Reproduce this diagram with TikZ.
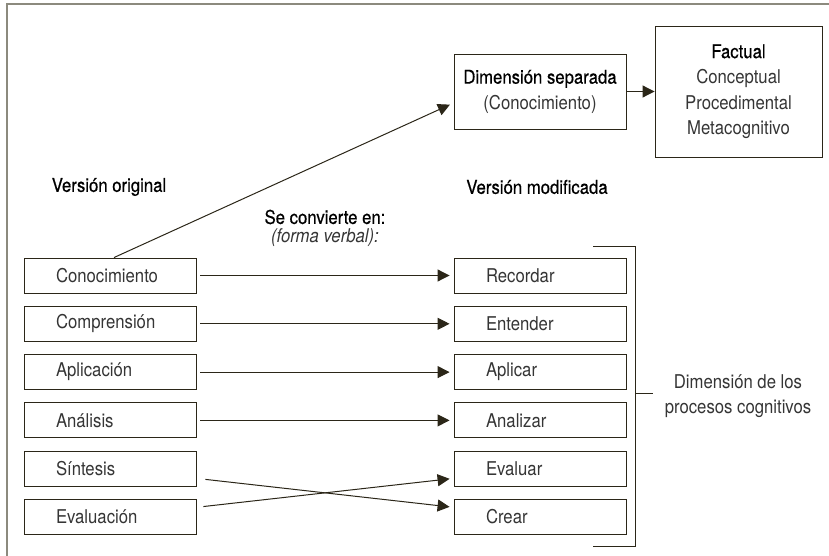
\documentclass[tikz,border=0pt]{standalone}
\usepackage{fontspec}
\setmainfont{TeX Gyre Heros}[FakeStretch=0.88]
\newfontfamily\medfont{TeX Gyre Heros}[FakeStretch=0.88,FakeBold=0.5]
\usepackage{tikz}
\usetikzlibrary{arrows.meta, positioning}
\definecolor{lineC}{HTML}{2B2618}
\definecolor{frameC}{HTML}{8C8A7E}
\definecolor{textC}{HTML}{353535}

\tikzset{
  box/.style={draw=lineC, line width=0.9pt, minimum height=35pt, inner ysep=0pt, text=textC},
  rowbox/.style={box, text width=108pt, inner xsep=32pt, align=left},
  conn/.style={draw=lineC, line width=1pt, -{Triangle[length=12pt,width=12pt]}},
  lbl/.style={text=black, font=\medfont\fontsize{19}{25.5}\selectfont},
}

\begin{document}
\begin{tikzpicture}[x=1pt, y=-1pt, every node/.style={font=\fontsize{19}{25.5}\selectfont}]
        \useasboundingbox (0,0) rectangle (829,556);
        \draw[frameC, line width=1.8pt] (7,556) -- (7,4) -- (829,4);% only top and left edges show
        % the two columns
        \foreach \txt [count=\i] in {Conocimiento, Comprensión, Aplicación, Análisis, Síntesis, Evaluación}
            \node[rowbox] (l\i) at (110, {227.2+48.3*\i}) {\txt};
        \foreach \txt [count=\i] in {Recordar, Entender, Aplicar, Analizar, Evaluar, Crear}
            \node[rowbox] (r\i) at (540, {227.2+48.3*\i}) {\txt};
        \node[lbl] (orig) at (109,187) {Versión original};
        \node[lbl] (modif) at (537,187) {Versión modificada};
        \node[lbl] (conv) at (325,217) {Se convierte en:};
        \node[text=textC, below=0pt of conv, inner sep=1pt] (verbal) {\itshape (forma verbal):};
        % knowledge dimension
        \node[box, minimum width=172pt, minimum height=75pt, align=center] (dim) at (540,91.5)
            {{\medfont\color{black}Dimensión separada}\\(Conocimiento)};
        \node[box, minimum width=167pt, minimum height=131pt, align=center] (fact) at (738.5,91.5)
            {{\medfont\color{black}Factual}\\Conceptual\\Procedimental\\Metacognitivo};
        \draw[conn] (dim) -- (fact);
        \draw[conn, shorten >=4pt] ([xshift=4pt]l1.north) -- ([shift={(0,11.5)}]dim.west);
        % arrows
        \foreach \i in {1,...,4}
            \draw[conn, shorten <=4pt, shorten >=4pt] (l\i) -- (r\i);
        \draw[conn, shorten <=9pt, shorten >=4pt] (l5) -- (r6);
        \draw[conn, shorten <=7pt, shorten >=4pt] (l6) -- (r5);
        % bracket
        \draw[lineC, line width=1pt] (593,246) -- (635,246) -- (635,546) -- (593,546);
        \draw[lineC, line width=1pt] (635,393) -- (653,393);
        \node[text=textC, align=center] (proc) at (738,396) {Dimensión de los\\procesos cognitivos};
    \end{tikzpicture}
\end{document}
